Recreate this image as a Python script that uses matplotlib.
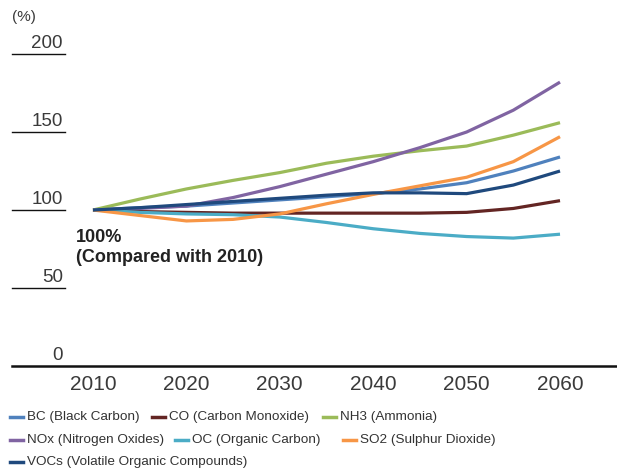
import matplotlib
matplotlib.use("Agg")
import matplotlib.pyplot as plt
from matplotlib.lines import Line2D
import matplotlib.transforms as mtransforms

plt.rcParams['font.family'] = ['Liberation Sans', 'DejaVu Sans']

years = [2010, 2015, 2020, 2025, 2030, 2035, 2040, 2045, 2050, 2055, 2060]
bc   = [100, 101.5, 102.5, 104.5, 106.5, 108.5, 110.5, 113.5, 117.5, 125, 134]
co   = [100, 99, 98.5, 98, 98, 98, 98, 98, 98.5, 101, 106]
nh3  = [100, 107, 113.5, 119, 124, 130, 134.5, 138, 141, 148, 156]
nox  = [100, 101, 102.5, 108, 115, 123, 131, 140, 150, 164, 182]
oc   = [100, 98.5, 97.5, 97, 95.5, 92, 88, 85, 83, 82, 84.5]
so2  = [100, 96.5, 93, 94, 97.5, 104, 110, 115.5, 121, 131, 147]
vocs = [100, 101.5, 103.5, 105.5, 107.5, 109.5, 111, 111, 110.5, 116, 125]

series_labels = ["BC (Black Carbon)", "CO (Carbon Monoxide)", "NH3 (Ammonia)",
                 "NOx (Nitrogen Oxides)", "OC (Organic Carbon)", "SO2 (Sulphur Dioxide)",
                 "VOCs (Volatile Organic Compounds)"]
series_values = [bc, co, nh3, nox, oc, so2, vocs]
colors = ["#4f81bd", "#632523", "#9bbb59", "#8064a2", "#4bacc6", "#f79646", "#1f497d"]

xticks = [2010, 2020, 2030, 2040, 2050, 2060]
yticks = [0, 50, 100, 150, 200]

W, H = 617, 470
fig = plt.figure(figsize=(W / 100, H / 100), dpi=100)
# axes from x=12..617 px, y=40..366 px (from top)
ax = fig.add_axes([12 / W, 1 - 366 / H, (617 - 12) / W, (366 - 40) / H])
ax.set_xlim(2001.33, 2066.1)
ax.set_ylim(0, 209)
for s in ax.spines.values():
    s.set_visible(False)
ax.set_xticks([])
ax.set_yticks([])

for vals, c in zip(series_values, colors):
    ax.plot(years, vals, color=c, lw=2.3, solid_capstyle='butt', solid_joinstyle='round')

# bottom axis line
ax.axhline(0, color="#111111", lw=1.8, clip_on=False)

# y tick lines and labels
trans = mtransforms.blended_transform_factory(ax.transAxes, ax.transData)
for yv in yticks[1:]:
    ax.plot([0, 53 / 605], [yv, yv], color="#111111", lw=1.0, transform=trans, clip_on=False)
for yv in yticks:
    ax.text(51 / 605, yv + 1.0, str(yv), transform=trans, ha='right', va='bottom',
            fontsize=13.5, color="#3a3a3a")

# x tick labels
for xv in xticks:
    ax.text(xv, -6, str(xv), ha='center', va='top', fontsize=15, color="#3a3a3a")

fig.text(12 / W, 1 - 17 / H, "(%)", ha='left', va='center', fontsize=11, color="#3a3a3a")

fig.text(76 / W, 1 - 237 / H, "100%", ha='left', va='center', fontsize=13,
         fontweight='bold', color="#222222")
fig.text(76 / W, 1 - 257 / H, "(Compared with 2010)", ha='left', va='center', fontsize=13,
         fontweight='bold', color="#222222")

# legend (flow layout)
leg_pos = [(10, 417), (152, 417), (323, 417),
           (10, 440), (175, 440), (343, 440),
           (10, 462)]
for (lx, ly), lab, c in zip(leg_pos, series_labels, colors):
    fig.add_artist(Line2D([lx / W, (lx + 13) / W], [1 - ly / H, 1 - ly / H],
                          color=c, lw=2.5, transform=fig.transFigure))
    fig.text((lx + 17) / W, 1 - ly / H, lab, ha='left', va='center', fontsize=9.7,
             color="#333333")

fig.savefig("out.png", dpi=100)
